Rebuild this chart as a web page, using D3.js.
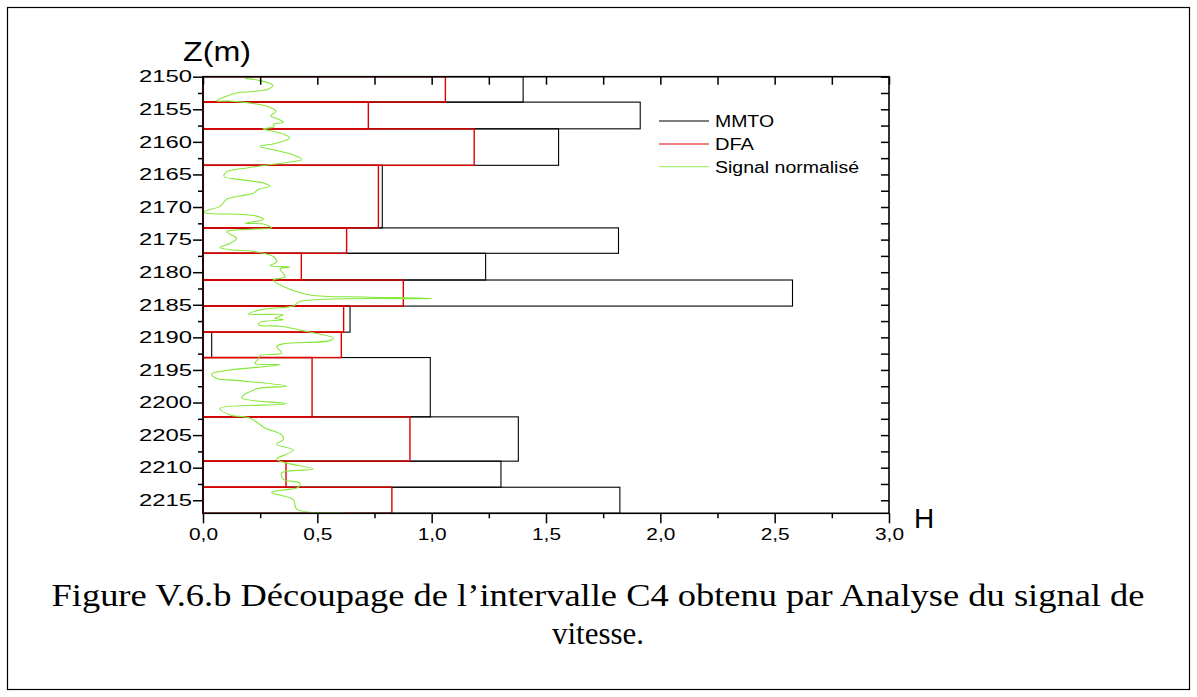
<!DOCTYPE html>
<html>
<head>
<meta charset="utf-8">
<script src="https://cdn.jsdelivr.net/npm/d3@7"></script>
<style>
  html, body { margin: 0; padding: 0; background: #fff; }
  svg { display: block; }
  text { fill: #000; }
</style>
</head>
<body>
<svg id="chart" width="1197" height="697"></svg>
<script>
// ---- data ----
// interval boundaries (depth, m)
const intervalTops    = [2150, 2153.9, 2158.0, 2163.6, 2173.2, 2177.1, 2181.2, 2185.2, 2189.2, 2193.1, 2202.2, 2209.0, 2213.0];
const intervalBottoms = [2153.9, 2158.0, 2163.6, 2173.2, 2177.1, 2181.2, 2185.2, 2189.2, 2193.1, 2202.2, 2209.0, 2213.0, 2217.0];
// Hurst exponent H per interval
const mmtoValues = [1.40, 1.912, 1.555, 0.784, 1.817, 1.236, 2.578, 0.643, 0.038, 0.994, 1.379, 1.303, 1.823];
const dfaValues  = [1.06, 0.723, 1.186, 0.767, 0.628, 0.430, 0.876, 0.615, 0.605, 0.477, 0.905, 0.363, 0.826];
// normalised signal: depth and value
const signalDepth = [2150.25,2150.6,2151.3,2151.9,2152.3,2152.5,2153.7,2153.75,2154.2,2154.7,2155.3,2156.0,2156.4,2157.0,2157.3,2157.7,2158.0,2158.4,2158.9,2159.4,2160.2,2160.7,2161.2,2162.0,2162.7,2163.1,2163.5,2164.0,2164.6,2165.3,2165.8,2166.3,2166.8,2167.3,2167.9,2168.3,2168.8,2169.9,2170.7,2170.95,2171.1,2171.4,2171.9,2172.5,2172.6,2173.2,2173.4,2173.8,2174.8,2175.6,2176.2,2176.6,2176.8,2177.6,2178.4,2179.0,2179.2,2179.5,2180.7,2181.2,2182.2,2183.5,2183.8,2184.05,2184.5,2185.2,2185.7,2186.4,2186.55,2187.05,2187.3,2187.7,2188.1,2188.3,2189.1,2190.1,2190.5,2191.0,2191.4,2192.4,2192.8,2193.3,2194.0,2194.2,2195.6,2196.3,2196.6,2197.5,2197.9,2199.3,2200.2,2200.9,2201.9,2202.4,2203.9,2204.95,2205.7,2206.4,2207.3,2208.7,2209.3,2210.2,2210.8,2211.75,2212.4,2213.0,2213.8,2214.9,2216.35,2216.95];
const signalValue = [0.184,0.249,0.305,0.286,0.206,0.147,0.060,0.118,0.235,0.293,0.319,0.296,0.322,0.351,0.307,0.310,0.261,0.307,0.359,0.380,0.322,0.249,0.307,0.395,0.432,0.380,0.293,0.191,0.104,0.092,0.162,0.264,0.293,0.242,0.220,0.162,0.104,0.074,0.004,0.016,0.147,0.235,0.264,0.184,0.264,0.300,0.206,0.104,0.147,0.118,0.074,0.132,0.220,0.307,0.322,0.293,0.380,0.337,0.359,0.307,0.351,0.468,0.701,1.000,0.424,0.395,0.264,0.198,0.351,0.315,0.351,0.249,0.242,0.337,0.453,0.570,0.555,0.351,0.322,0.344,0.249,0.242,0.227,0.337,0.038,0.060,0.147,0.366,0.235,0.169,0.366,0.074,0.118,0.206,0.271,0.344,0.351,0.322,0.395,0.322,0.366,0.482,0.344,0.351,0.424,0.417,0.300,0.395,0.410,0.613];
// ticks
const xMajorTicks = [0, 0.5, 1.0, 1.5, 2.0, 2.5, 3.0];
const xMinorTicks = [0.25, 0.75, 1.25, 1.75, 2.25, 2.75];
const yMajorTicks = [2150, 2155, 2160, 2165, 2170, 2175, 2180, 2185, 2190, 2195, 2200, 2205, 2210, 2215];
const yMinorTicks = [2152.5, 2157.5, 2162.5, 2167.5, 2172.5, 2177.5, 2182.5, 2187.5, 2192.5, 2197.5, 2202.5, 2207.5, 2212.5];
const legendLabels = ["MMTO", "DFA", "Signal normalisé"];
const captionLines = ["Figure V.6.b Découpage de l\u2019intervalle C4 obtenu par Analyse du signal de", "vitesse."];

// ---- drawing ----
const SANS = "'Liberation Sans', Arial, sans-serif";
const SERIF = "'Liberation Serif', 'Times New Roman', serif";
const svg = d3.select("#chart");
const colMMTO = "#000000", colDFA = "#e00000", colSig = "#86e83a";

// outer frame
svg.append("rect").attr("x", 7.5).attr("y", 7.5).attr("width", 1182).attr("height", 682)
  .attr("fill", "none").attr("stroke", "#000").attr("stroke-width", 1.2);

const x = d3.scaleLinear().domain([0, 3]).range([203, 889]);
const y = d3.scaleLinear().domain([2150, 2217]).range([76.7, 513.3]);

const bars = intervalTops.map((t, i) => ({ top: t, bottom: intervalBottoms[i], mmto: mmtoValues[i], dfa: dfaValues[i] }));

const plot = svg.append("g");
plot.selectAll("rect.mmto").data(bars).join("rect").attr("class", "mmto")
  .attr("x", x(0)).attr("y", d => y(d.top))
  .attr("width", d => x(d.mmto) - x(0)).attr("height", d => y(d.bottom) - y(d.top))
  .attr("fill", "none").attr("stroke", colMMTO).attr("stroke-width", 1.1);
plot.selectAll("rect.dfa").data(bars).join("rect").attr("class", "dfa")
  .attr("x", x(0)).attr("y", d => y(d.top))
  .attr("width", d => x(d.dfa) - x(0)).attr("height", d => y(d.bottom) - y(d.top))
  .attr("fill", "none").attr("stroke", colDFA).attr("stroke-width", 1.4);

const sig = signalDepth.map((d, i) => [signalValue[i], d]);
plot.append("path").datum(sig)
  .attr("d", d3.line().x(d => x(d[0])).y(d => y(d[1])).curve(d3.curveCatmullRom.alpha(0.5)))
  .attr("fill", "none").attr("stroke", colSig).attr("stroke-width", 1.1);

// axes
const fmtX = v => d3.format(".1f")(v).replace(".", ",");
function styleAxis(g) {
  g.select(".domain").remove();
  g.selectAll("line").attr("stroke", "#000").attr("stroke-width", 1.5);
}
const axB = svg.append("g").attr("transform", `translate(0,${y(2217)})`)
  .call(d3.axisBottom(x).tickValues(xMajorTicks).tickSize(10).tickPadding(4).tickFormat(fmtX)).call(styleAxis);
axB.selectAll("text").style("font-family", SANS).attr("font-size", 16).attr("dy", "0.8em")
  .attr("textLength", 29).attr("lengthAdjust", "spacingAndGlyphs");
svg.append("g").attr("transform", `translate(0,${y(2217)})`)
  .call(d3.axisBottom(x).tickValues(xMinorTicks).tickSize(5).tickFormat("")).call(styleAxis);
svg.append("g").attr("transform", `translate(0,${y(2150)})`)
  .call(d3.axisTop(x).tickValues(xMajorTicks.concat(xMinorTicks)).tickSize(-8).tickFormat("")).call(styleAxis);

const axL = svg.append("g").attr("transform", `translate(${x(0)},0)`)
  .call(d3.axisLeft(y).tickValues(yMajorTicks).tickSize(10).tickPadding(1).tickFormat(d3.format("d"))).call(styleAxis);
axL.selectAll("text").style("font-family", SANS).attr("font-size", 16.5)
  .attr("textLength", 53).attr("lengthAdjust", "spacingAndGlyphs");
svg.append("g").attr("transform", `translate(${x(0)},0)`)
  .call(d3.axisLeft(y).tickValues(yMinorTicks).tickSize(5).tickFormat("")).call(styleAxis);
svg.append("g").attr("transform", `translate(${x(3)},0)`)
  .call(d3.axisRight(y).tickValues(yMajorTicks.concat(yMinorTicks)).tickSize(-8).tickFormat("")).call(styleAxis);

// plot frame
svg.append("rect").attr("x", x(0)).attr("y", y(2150)).attr("width", x(3) - x(0)).attr("height", y(2217) - y(2150))
  .attr("fill", "none").attr("stroke", "#000").attr("stroke-width", 1.6);

// axis titles
svg.append("text").attr("x", 183).attr("y", 60.5).style("font-family", SANS).attr("font-size", 28)
  .attr("textLength", 68).attr("lengthAdjust", "spacingAndGlyphs").text("Z(m)");
svg.append("text").attr("x", 914).attr("y", 528).style("font-family", SANS).attr("font-size", 28).text("H");

// legend
const legCols = [colMMTO, colDFA, "#a8f27a"];
const legY = [121, 144, 166.7];
const legW = [59, 39, 144];
const leg = svg.append("g");
legendLabels.forEach((lab, i) => {
  leg.append("line").attr("x1", 659).attr("x2", 709).attr("y1", legY[i]).attr("y2", legY[i])
    .attr("stroke", legCols[i]).attr("stroke-width", 1.2);
  leg.append("text").attr("x", 715).attr("y", legY[i] + 5.8).style("font-family", SANS).attr("font-size", 16)
    .attr("textLength", legW[i]).attr("lengthAdjust", "spacingAndGlyphs").text(lab);
});

// caption
svg.append("text").attr("x", 598).attr("y", 606).attr("text-anchor", "middle")
  .style("font-family", SERIF).attr("font-size", 31)
  .attr("textLength", 1093).attr("lengthAdjust", "spacingAndGlyphs").text(captionLines[0]);
svg.append("text").attr("x", 598).attr("y", 644).attr("text-anchor", "middle")
  .style("font-family", SERIF).attr("font-size", 31)
  .text(captionLines[1]);
</script>
</body>
</html>
